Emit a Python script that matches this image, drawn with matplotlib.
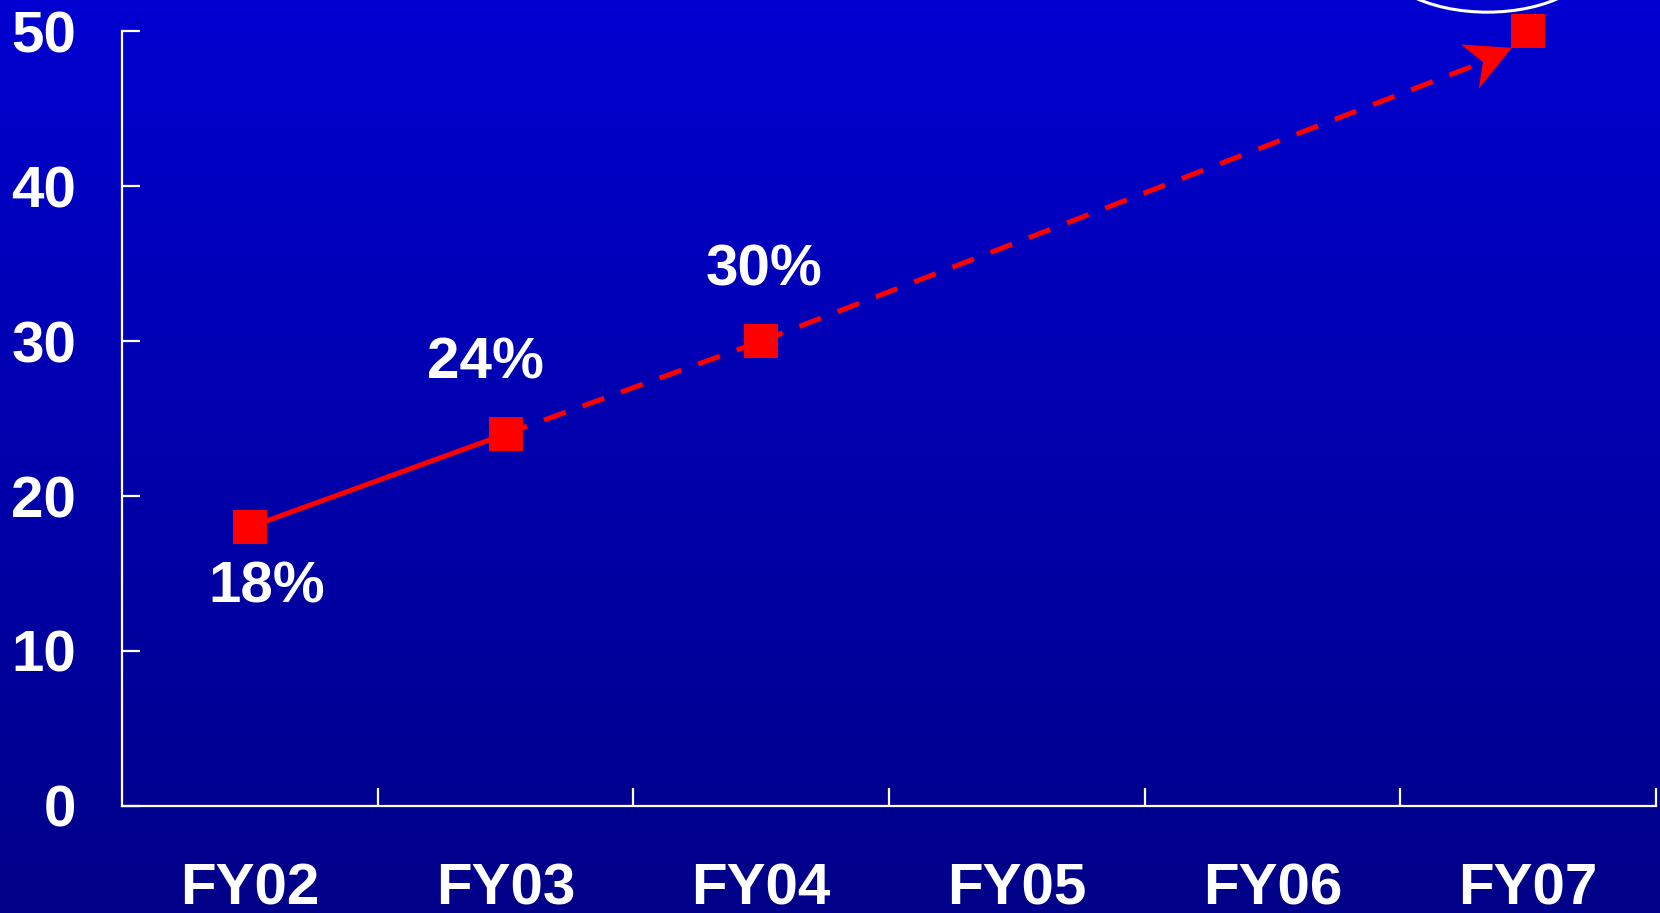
import numpy as np
import matplotlib
matplotlib.use("Agg")
import matplotlib.pyplot as plt
from matplotlib.patches import Ellipse, Polygon
import matplotlib.transforms as mtransforms

plt.rcParams['font.family'] = ['Liberation Sans', 'DejaVu Sans']
plt.rcParams['font.weight'] = 'bold'

# Data
years = ["FY02", "FY03", "FY04", "FY05", "FY06", "FY07"]
actual_idx = [0, 1]          # reported years (solid line)
actual_vals = [18, 24]
plan_idx = [1, 2]            # plan path from FY03 to FY04 (dashed)
plan_vals = [24, 30]
target_idx = [2, 5]          # FY04 to FY07 target (dashed arrow)
target_vals = [30, 50]
marker_idx = [0, 1, 2, 5]
marker_vals = [18, 24, 30, 50]
labels_idx = [0, 1, 2]
labels_vals = [18, 24, 30]
yticks = [0, 10, 20, 30, 40, 50]

RED = "#FF0000"
WHITE = "#FFFFFF"
FS = 42

fig = plt.figure(figsize=(16.6, 9.13), dpi=100)

# vertical blue gradient background
bg = fig.add_axes([0, 0, 1, 1], zorder=-10)
grad = np.linspace(0, 1, 256).reshape(-1, 1)
top = np.array([0, 0, 208]) / 255
bot = np.array([0, 0, 136]) / 255
img = top[None, None, :] * (1 - grad[:, :, None]) + bot[None, None, :] * grad[:, :, None]
bg.imshow(img, aspect='auto', extent=[0, 1, 0, 1], origin='upper')
bg.set_axis_off()

ax = fig.add_axes([0.0735, 0.1175, 0.9241, 0.848])
ax.set_facecolor('none')
ax.set_xlim(-0.5, len(years) - 0.5)
ax.set_ylim(0, 50)

for s in ['top', 'right']:
    ax.spines[s].set_visible(False)
for s in ['left', 'bottom']:
    ax.spines[s].set_color(WHITE)
    ax.spines[s].set_linewidth(1.6)

# y axis
ax.set_yticks(yticks)
ax.set_yticklabels([str(v) for v in yticks])
ax.tick_params(axis='y', direction='in', length=13, width=1.6, color=WHITE,
               labelcolor=WHITE, labelsize=FS, pad=33)

# x axis: tick marks between categories, labels at category centres
ax.set_xticks(np.arange(0.5, len(years), 1.0))
ax.set_xticklabels([])
ax.tick_params(axis='x', which='major', direction='in', length=13, width=1.6, color=WHITE)
ax.set_xticks(np.arange(len(years)), minor=True)
ax.set_xticklabels(years, minor=True)
ax.tick_params(axis='x', which='minor', length=0, labelcolor=WHITE, labelsize=FS, pad=41)

lw = 3.6
dash = (4.6, 3.6)

ax.plot(actual_idx, actual_vals, color=RED, lw=lw, solid_capstyle='butt', zorder=3)
ax.plot(plan_idx, plan_vals, color=RED, lw=lw, dashes=dash, dash_capstyle='butt', zorder=3)

# arrow head shape, in pixels relative to the FY07 point
head_px = np.array([[-16.2, -16.3], [-67.2, -13.0], [-45.2, -30.6], [-49.5, -57.3]])
head_tr = (mtransforms.Affine2D().scale(1 / fig.dpi) + fig.dpi_scale_trans
           + mtransforms.ScaledTranslation(target_idx[1], target_vals[1], ax.transData))
ax.add_patch(Polygon(head_px, closed=True, transform=head_tr, facecolor=RED,
                     edgecolor='none', zorder=3))

# dashed segment from FY04 ending at the notch of the arrow head
fig.canvas.draw()
notch_disp = head_tr.transform(head_px[2])
notch_data = ax.transData.inverted().transform(notch_disp)
ax.plot([target_idx[0], notch_data[0]], [target_vals[0], notch_data[1]], color=RED, lw=lw,
        dashes=dash, dash_capstyle='butt', zorder=3)

ax.plot(marker_idx, marker_vals, linestyle='none', marker='s', markersize=25,
        color=RED, markeredgewidth=0, zorder=4, clip_on=False)

# value labels
label_pos = [(0.066, 13.1), (0.92, 27.6), (2.01, 33.6)]
for (lx, ly), v in zip(label_pos, labels_vals):
    ax.text(lx, ly, f"{v}%", color=WHITE, fontsize=FS, fontweight='bold',
            ha='center', va='baseline', zorder=5)

# outline of the target callout at the top edge
ax.add_patch(Ellipse((4.84, 55.0), 0.86, 7.5, fill=False, edgecolor=WHITE,
                     linewidth=2.2, clip_on=False, zorder=5))

fig.savefig("out.png", dpi=100)
